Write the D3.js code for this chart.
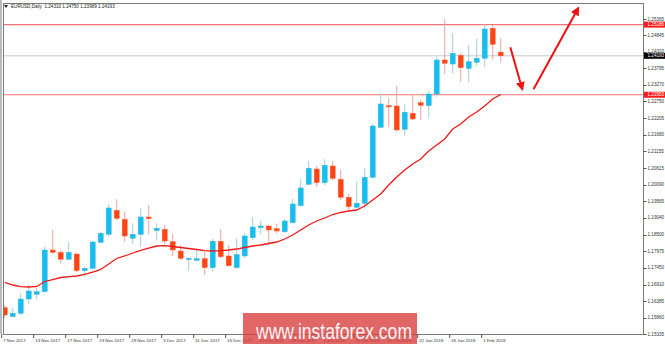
<!DOCTYPE html>
<html>
<head>
<meta charset="utf-8">
<script src="https://cdn.jsdelivr.net/npm/d3@7"></script>
<style>
  html, body { margin: 0; padding: 0; background: #fff; }
  svg { display: block; font-family: "Liberation Sans", Arial, sans-serif; }
</style>
</head>
<body>
<div id="chart"></div>
<script>
// EURUSD daily candles, 7 Nov 2017 .. 5 Feb 2018
const opens = [1.16172,1.15886,1.15994,1.16449,1.16599,1.16682,1.18010,1.17936,1.17714,1.17882,
  1.17351,1.17427,1.18254,1.18510,1.19274,1.18987,1.18382,1.18510,1.19060,1.18624,
  1.18669,1.18274,1.17978,1.17714,1.17682,1.17733,1.17446,1.18287,1.17819,1.17446,
  1.17819,1.18401,1.18720,1.18774,1.18688,1.18592,1.18879,1.19420,1.20102,1.20589,
  1.20153,1.20685,1.20261,1.19688,1.19369,1.19497,1.20325,1.21917,1.22604,1.22595,
  1.21853,1.22362,1.22700,1.22604,1.22977,1.24060,1.23932,1.24209,1.23795,1.23986,
  1.24114,1.25069,1.24310];
const highs = [1.16258,1.16172,1.16631,1.16895,1.16832,1.18115,1.18647,1.18010,1.18264,1.17920,
  1.17459,1.18296,1.18592,1.19474,1.19624,1.19229,1.18860,1.19337,1.19443,1.18860,
  1.18806,1.18519,1.18169,1.17778,1.18000,1.17956,1.18360,1.18669,1.18159,1.18382,
  1.18551,1.19051,1.18943,1.18800,1.18838,1.18997,1.19634,1.20261,1.20844,1.20685,
  1.20898,1.20844,1.20557,1.19793,1.20184,1.20611,1.22022,1.22999,1.22840,1.23232,
  1.22649,1.22966,1.22786,1.23072,1.24165,1.25365,1.24910,1.24292,1.24537,1.24728,
  1.25206,1.25174,1.24750];
const lows = [1.15845,1.15867,1.15940,1.16290,1.16440,1.16660,1.17882,1.17586,1.17691,1.17309,
  1.17160,1.17395,1.18223,1.18433,1.18965,1.18274,1.18201,1.18115,1.18510,1.18306,
  1.18191,1.17819,1.17691,1.17351,1.17676,1.17214,1.17319,1.17746,1.17480,1.17420,
  1.17755,1.18328,1.18519,1.18169,1.18541,1.18551,1.18850,1.19400,1.20080,1.20025,
  1.20079,1.20239,1.19602,1.19261,1.19340,1.19315,1.20303,1.21885,1.21936,1.21777,
  1.21649,1.22149,1.22149,1.22222,1.22891,1.23614,1.23636,1.23369,1.23349,1.23868,
  1.23846,1.24082,1.23989];
const closes = [1.15940,1.15994,1.16449,1.16704,1.16682,1.18010,1.17936,1.17714,1.17936,1.17351,
  1.17427,1.18264,1.18541,1.19347,1.19019,1.18455,1.18510,1.19060,1.19006,1.18701,
  1.18296,1.18010,1.17746,1.17746,1.17733,1.17446,1.18287,1.17796,1.17510,1.17860,
  1.18455,1.18742,1.18774,1.18647,1.18615,1.18933,1.19474,1.19984,1.20611,1.20153,
  1.20707,1.20293,1.19688,1.19388,1.19497,1.20325,1.21958,1.22659,1.22585,1.21831,
  1.22394,1.22181,1.22617,1.22977,1.24060,1.23954,1.24273,1.23814,1.24005,1.24114,
  1.25047,1.24559,1.24193];
// moving average (red curve)
const maValues = [1.16975,1.16895,1.16841,1.16832,1.16848,1.17007,1.17070,1.17134,1.17160,1.17182,
  1.17230,1.17309,1.17389,1.17564,1.17739,1.17819,1.17914,1.17994,1.18073,1.18137,
  1.18146,1.18121,1.18089,1.18057,1.18026,1.17988,1.17978,1.17988,1.18010,1.18041,
  1.18089,1.18137,1.18169,1.18217,1.18264,1.18360,1.18487,1.18647,1.18806,1.18933,
  1.19029,1.19140,1.19204,1.19252,1.19283,1.19411,1.19602,1.19793,1.20079,1.20334,
  1.20557,1.20748,1.20907,1.21162,1.21353,1.21544,1.21862,1.22022,1.22245,1.22404,
  1.22595,1.22818,1.22961];

const priceTicks = [1.25365,1.24845,1.24320,1.23795,1.23270,1.22750,1.22205,1.21680,1.21155,1.20615,
  1.20090,1.19565,1.19040,1.18500,1.17975,1.17450,1.16910,1.16385,1.15860,1.15335];
const timeLabels = ["7 Nov 2017","13 Nov 2017","17 Nov 2017","23 Nov 2017","29 Nov 2017","5 Dec 2017",
  "11 Dec 2017","15 Dec 2017","21 Dec 2017","28 Dec 2017","4 Jan 2018","10 Jan 2018","16 Jan 2018",
  "22 Jan 2018","26 Jan 2018","1 Feb 2018"];
const barsPerLabel = 4;

const resistance = 1.25186;
const support = 1.22953;
const lastPrice = 1.24193;
const headerText = "EURUSD,Daily  1.24310 1.24750 1.23989 1.24193";

// forecast arrows: [bar, price] -> [bar, price]
const arrowFrom = [[63.2, 1.24464], [66.1, 1.23127]];
const arrowTo = [[64.7, 1.23127], [71.7, 1.25715]];

const W = 665, H = 344;
const plot = { left: 3, right: 643, top: 3, bottom: 334 };

const svg = d3.select('#chart').append('svg')
  .attr('width', W).attr('height', H);

const x = d3.scaleLinear().domain([0, 1]).range([4.7, 12.7]);
const y = d3.scaleLinear().domain([1.15335, 1.25365]).range([334, 19]);

const candles = opens.map((o, i) => ({ i: i, o: o, h: highs[i], l: lows[i], c: closes[i] }));

let defs = svg.append('defs');
defs.append('clipPath').attr('id', 'clip')
  .append('rect').attr('x', plot.left).attr('y', plot.top)
  .attr('width', plot.right - plot.left).attr('height', plot.bottom - plot.top);
defs.append('marker').attr('id', 'head')
  .attr('viewBox', '0 0 10 10').attr('refX', 8).attr('refY', 5)
  .attr('markerWidth', 4.5).attr('markerHeight', 4.5).attr('orient', 'auto')
  .append('path').attr('d', 'M0,0 L10,5 L0,10 Z').attr('fill', '#ee1111');

let g = svg.append('g').attr('clip-path', 'url(#clip)');

// level lines
g.append('line').attr('x1', plot.left).attr('x2', plot.right)
  .attr('y1', y(lastPrice)).attr('y2', y(lastPrice))
  .attr('stroke', '#c8c8c8').attr('stroke-width', 1);
g.selectAll('.level').data([resistance, support]).join('line')
  .attr('class', 'level')
  .attr('x1', plot.left).attr('x2', plot.right)
  .attr('y1', d => y(d)).attr('y2', d => y(d))
  .attr('stroke', '#f27373').attr('stroke-width', 1.1);

// candles
let cg = g.selectAll('.candle').data(candles).join('g').attr('class', 'candle');
cg.append('line')
  .attr('x1', d => x(d.i)).attr('x2', d => x(d.i))
  .attr('y1', d => y(d.h)).attr('y2', d => y(d.l))
  .attr('stroke', d => d.c >= d.o ? '#9fcfd6' : '#f0a0a8')
  .attr('stroke-width', 1);
cg.append('rect')
  .attr('x', d => x(d.i) - 2.5).attr('width', 5)
  .attr('y', d => y(Math.max(d.o, d.c)))
  .attr('height', d => Math.max(1.2, Math.abs(y(d.o) - y(d.c))))
  .attr('fill', d => d.c >= d.o ? '#14bff2' : '#ff4512')
  .attr('stroke', d => d.c >= d.o ? '#3fb2d0' : '#f5603a')
  .attr('stroke-width', 0.5);

// moving average
let lineGen = d3.line().x((d, i) => x(i)).y(d => y(d));
g.append('path').attr('d', lineGen(maValues))
  .attr('fill', 'none').attr('stroke', '#f01818').attr('stroke-width', 1.3);

// forecast arrows
svg.selectAll('.arrow').data(arrowFrom).join('line')
  .attr('class', 'arrow')
  .attr('x1', d => x(d[0])).attr('y1', d => y(d[1]))
  .attr('x2', (d, i) => x(arrowTo[i][0])).attr('y2', (d, i) => y(arrowTo[i][1]))
  .attr('stroke', '#ee1111').attr('stroke-width', 2)
  .attr('marker-end', 'url(#head)');

// frame
svg.append('line').attr('x1', 1).attr('x2', 1).attr('y1', 0).attr('y2', plot.bottom)
  .attr('stroke', '#777').attr('stroke-width', 1);
svg.append('rect').attr('x', plot.left + 0.5).attr('y', plot.top + 0.5)
  .attr('width', plot.right - plot.left).attr('height', plot.bottom - plot.top)
  .attr('fill', 'none').attr('stroke', '#7a7a7a').attr('stroke-width', 1);

// right price axis
let yAxis = svg.append('g').attr('transform', 'translate(' + (plot.right + 0.5) + ',0)');
yAxis.selectAll('line').data(priceTicks).join('line')
  .attr('x1', 0).attr('x2', 3)
  .attr('y1', d => Math.round(y(d)) + 0.5).attr('y2', d => Math.round(y(d)) + 0.5)
  .attr('stroke', '#555');
yAxis.selectAll('text').data(priceTicks).join('text')
  .attr('x', 4).attr('y', d => y(d) + 1.6)
  .attr('font-size', 4.6).attr('fill', '#333')
  .text(d => d.toFixed(5));

// highlighted price boxes
let boxes = [
  { v: resistance, fill: '#ff1a1a' },
  { v: support, fill: '#ff1a1a' },
  { v: lastPrice, fill: '#000' }
];
let bg = svg.selectAll('.pbox').data(boxes).join('g').attr('class', 'pbox');
bg.append('rect').attr('x', plot.right + 1).attr('y', d => y(d.v) - 3)
  .attr('width', 21).attr('height', 6).attr('fill', d => d.fill);
bg.append('text').attr('x', plot.right + 4.5).attr('y', d => y(d.v) + 1.6)
  .attr('font-size', 4.6).attr('fill', '#fff')
  .text(d => d.v.toFixed(5));

// bottom time axis
let xAxis = svg.append('g');
let tg = xAxis.selectAll('g').data(timeLabels).join('g')
  .attr('transform', (d, i) => 'translate(' + (x(i * barsPerLabel) - 3.5) + ',' + plot.bottom + ')');
tg.append('line').attr('x1', 0.5).attr('x2', 0.5).attr('y1', 0).attr('y2', 4)
  .attr('stroke', '#555');
tg.append('text').attr('x', 2).attr('y', 7.5)
  .attr('font-size', 4.4).attr('fill', '#333')
  .text(d => d);

// header
svg.append('path').attr('d', 'M4,5 L8,5 L6,8 Z').attr('fill', '#222');
svg.append('text').attr('x', 11).attr('y', 8)
  .attr('font-size', 4.6).attr('fill', '#222')
  .attr('xml:space', 'preserve')
  .text(headerText);

// watermark (semi-transparent, dates show through)
svg.append('rect').attr('x', 243).attr('y', 313).attr('width', 174).attr('height', 31)
  .attr('fill', '#d83c3c').attr('opacity', 0.78);
svg.append('text').attr('x', 256).attr('y', 339)
  .attr('font-size', 22).attr('fill', '#fff').attr('fill-opacity', 0.95)
  .attr('textLength', 156).attr('lengthAdjust', 'spacingAndGlyphs')
  .text('www.instaforex.com');
</script>
</body>
</html>
